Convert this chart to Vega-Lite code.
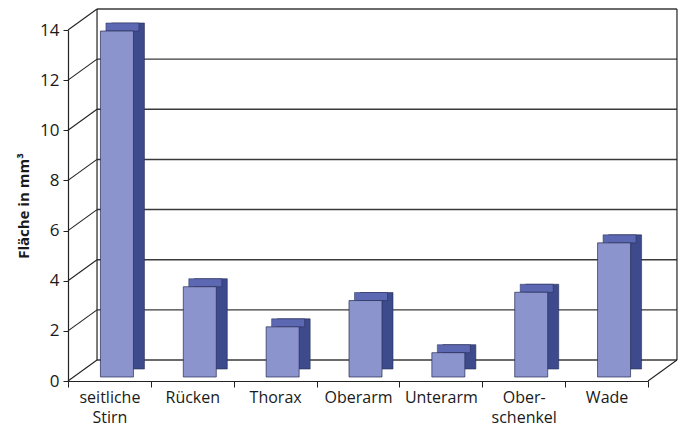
{
  "$schema": "https://vega.github.io/schema/vega-lite/v6.json",
  "width": 580,
  "height": 351,
  "autosize": {"type": "none"},
  "padding": {"left": 68, "top": 30, "right": 35, "bottom": 50},
  "background": "white",
  "config": {
    "view": {"stroke": null},
    "font": "Open Sans",
    "axis": {"labelFont": "Open Sans", "titleFont": "Open Sans"}
  },
  "datasets": {
    "bars": [
      {"Bereich": "seitliche Stirn", "Flaeche": 13.8},
      {"Bereich": "Rücken", "Flaeche": 3.6},
      {"Bereich": "Thorax", "Flaeche": 2.0},
      {"Bereich": "Oberarm", "Flaeche": 3.05},
      {"Bereich": "Unterarm", "Flaeche": 0.97},
      {"Bereich": "Oberschenkel", "Flaeche": 3.38},
      {"Bereich": "Wade", "Flaeche": 5.35}
    ],
    "ticks": [
      {"t": 0}, {"t": 2}, {"t": 4}, {"t": 6}, {"t": 8}, {"t": 10}, {"t": 12}, {"t": 14}
    ]
  },
  "layer": [
    {
      "data": {"name": "ticks"},
      "mark": {"type": "rule", "color": "#3a3a3a", "strokeWidth": 1.4, "xOffset": -12.4, "x2Offset": 70.4, "yOffset": -21, "y2Offset": -21},
      "encoding": {
        "x": {"datum": "seitliche Stirn", "type": "nominal"},
        "x2": {"datum": "Wade"},
        "y": {"field": "t", "type": "quantitative", "scale": {"domain": [0, 14], "nice": false}},
        "y2": {"field": "t"}
      }
    },
    {
      "data": {"name": "ticks"},
      "mark": {"type": "rule", "color": "#222222", "strokeWidth": 1.1, "xOffset": -41.43, "x2Offset": -12.4, "y2Offset": -21},
      "encoding": {
        "x": {"datum": "seitliche Stirn", "type": "nominal"},
        "x2": {"datum": "seitliche Stirn"},
        "y": {"field": "t", "type": "quantitative"},
        "y2": {"field": "t"}
      }
    },
    {
      "data": {"values": [{"a": 0, "b": 14}]},
      "mark": {"type": "rule", "color": "#222222", "strokeWidth": 1.2, "xOffset": -12.4, "yOffset": -21, "y2Offset": -21},
      "encoding": {
        "x": {"datum": "seitliche Stirn", "type": "nominal"},
        "y": {"field": "a", "type": "quantitative"},
        "y2": {"field": "b"}
      }
    },
    {
      "data": {"values": [{"a": 0, "b": 14}]},
      "mark": {"type": "rule", "color": "#222222", "strokeWidth": 1.2, "xOffset": 70.4, "yOffset": -21, "y2Offset": -21},
      "encoding": {
        "x": {"datum": "Wade", "type": "nominal"},
        "y": {"field": "a", "type": "quantitative"},
        "y2": {"field": "b"}
      }
    },
    {
      "data": {"values": [{"a": 0}]},
      "mark": {"type": "rule", "color": "#222222", "strokeWidth": 1.1, "xOffset": 41.43, "x2Offset": 70.4, "y2Offset": -21},
      "encoding": {
        "x": {"datum": "Wade", "type": "nominal"},
        "x2": {"datum": "Wade"},
        "y": {"field": "a", "type": "quantitative"},
        "y2": {"field": "a"}
      }
    },
    {
      "data": {"name": "bars"},
      "mark": {"type": "bar", "width": 33, "xOffset": 18.5, "yOffset": -12, "y2Offset": -12, "fill": "#3d4a8c", "stroke": "#262b55", "strokeWidth": 0.6},
      "encoding": {
        "x": {"field": "Bereich", "type": "nominal"},
        "y": {"field": "Flaeche", "type": "quantitative"}
      }
    },
    {
      "data": {"name": "bars"},
      "mark": {"type": "bar", "width": 33, "xOffset": 13, "yOffset": -12, "y2Offset": -4, "fill": "#5c69b2", "stroke": "#262b55", "strokeWidth": 0.5},
      "encoding": {
        "x": {"field": "Bereich", "type": "nominal"},
        "y": {"field": "Flaeche", "type": "quantitative"},
        "y2": {"field": "Flaeche"}
      }
    },
    {
      "data": {"name": "bars"},
      "mark": {"type": "bar", "width": 33, "xOffset": 7.5, "yOffset": -4, "y2Offset": -4, "fill": "#8b94cc", "stroke": "#262b55", "strokeWidth": 0.7},
      "encoding": {
        "x": {
          "field": "Bereich",
          "type": "nominal",
          "scale": {"domain": ["seitliche Stirn", "Rücken", "Thorax", "Oberarm", "Unterarm", "Oberschenkel", "Wade"], "paddingInner": 0, "paddingOuter": 0},
          "axis": {
            "title": null,
            "labelAngle": 0,
            "labelAlign": "center",
            "labelBaseline": "top",
            "tickBand": "extent",
            "tickSize": 6,
            "tickColor": "#222222",
            "domainColor": "#222222",
            "domainWidth": 1.2,
            "labelFontSize": 16,
            "labelColor": "#1a1a1a",
            "labelPadding": 2,
            "labelLineHeight": 20,
            "labelExpr": "datum.label == 'seitliche Stirn' ? ['seitliche', 'Stirn'] : datum.label == 'Oberschenkel' ? ['Ober-', 'schenkel'] : datum.label"
          }
        },
        "y": {
          "field": "Flaeche",
          "type": "quantitative",
          "axis": {
            "title": "Fläche in mm³",
            "titleFontSize": 15,
            "titleFontWeight": "bold",
            "titleColor": "#1a1a1a",
            "titlePadding": 8,
            "values": [0, 2, 4, 6, 8, 10, 12, 14],
            "tickSize": 5,
            "tickColor": "#222222",
            "domainColor": "#222222",
            "domainWidth": 1.2,
            "labelFontSize": 17,
            "labelColor": "#1a1a1a",
            "labelPadding": 4,
            "grid": false
          }
        }
      }
    }
  ]
}
